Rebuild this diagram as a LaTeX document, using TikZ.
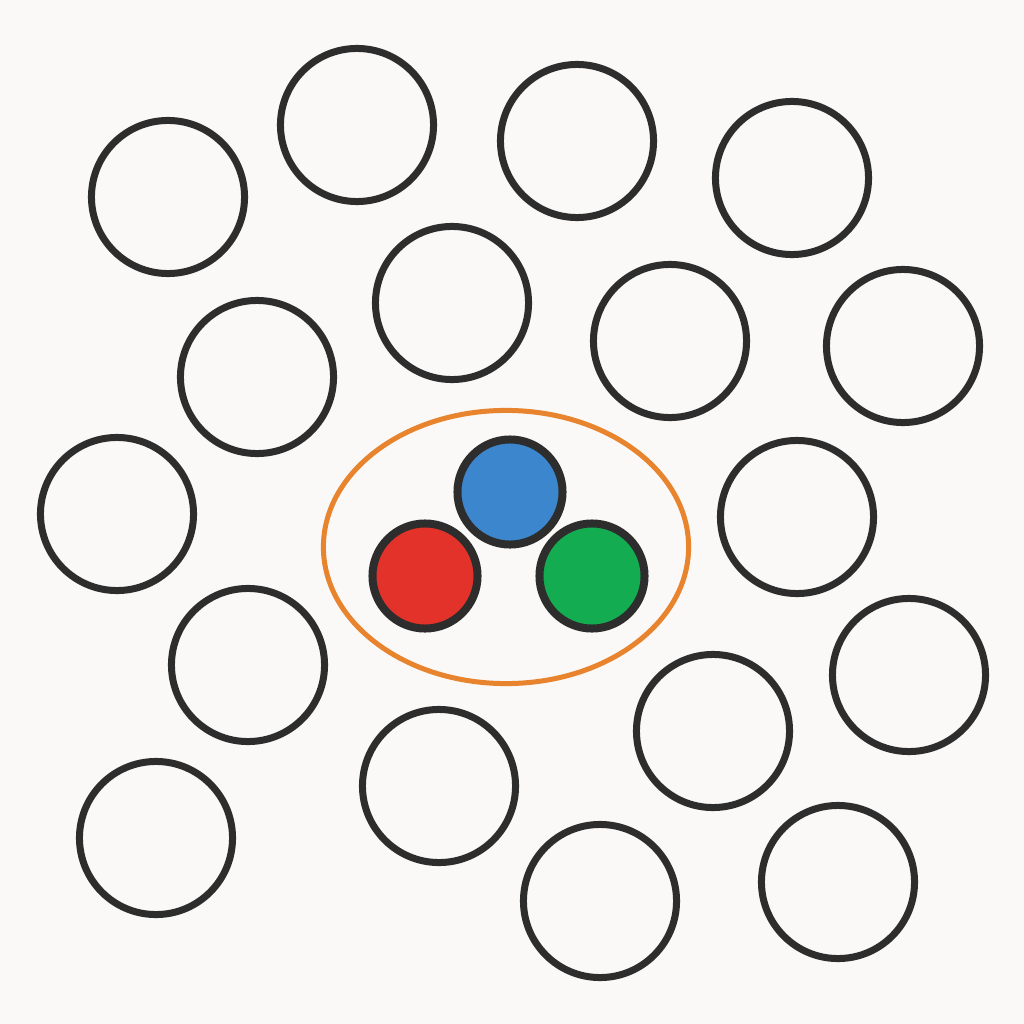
\documentclass[tikz,border=0pt]{standalone}
\usepackage{tikz}
\usetikzlibrary{shapes.geometric}

\definecolor{ink}{HTML}{2D2D2D}
\definecolor{paper}{HTML}{FAF9F7}
\definecolor{ringorange}{HTML}{E8832E}
\definecolor{dotblue}{HTML}{3B86CC}
\definecolor{dotred}{HTML}{E3322A}
\definecolor{dotgreen}{HTML}{14AC50}

\begin{document}
\begin{tikzpicture}[x=0.01cm, y=-0.01cm, every node/.style={circle, draw=ink, line width=0.07cm, minimum size=1.53cm, inner sep=0pt}]
    % background
    \fill[paper] (0,0) rectangle (1024,1024);
    \useasboundingbox (0,0) rectangle (1024,1024);

    % empty circles (outside)
    \node (C1) at (168, 197) {};
    \node (C2) at (357, 125) {};
    \node (C3) at (577, 141) {};
    \node (C4) at (792, 178) {};
    \node (C5) at (452, 303) {};
    \node (C6) at (670, 341) {};
    \node (C7) at (903, 346) {};
    \node (C8) at (257, 377) {};
    \node (C9) at (117, 514) {};
    \node (C10) at (797, 517) {};
    \node (C11) at (248, 665) {};
    \node (C12) at (909, 675) {};
    \node (C13) at (713, 731) {};
    \node (C14) at (439, 786) {};
    \node (C15) at (156, 838) {};
    \node (C16) at (600, 901) {};
    \node (C17) at (838, 882) {};

    % the group
    \node[ellipse, draw=ringorange, line width=0.05cm, minimum width=3.65cm, minimum height=2.73cm] (G) at (506, 547) {};

    % colored circles
    \node[fill=dotblue, line width=0.08cm, minimum size=1.05cm] (B) at (510, 492) {};
    \node[fill=dotred, line width=0.08cm, minimum size=1.05cm] (R) at (425, 576) {};
    \node[fill=dotgreen, line width=0.08cm, minimum size=1.05cm] (Gr) at (592, 576) {};
\end{tikzpicture}
\end{document}
